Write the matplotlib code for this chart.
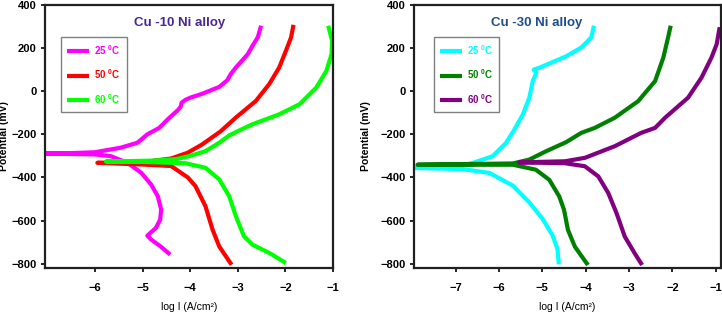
import numpy as np
import matplotlib
matplotlib.use("Agg")
import matplotlib.pyplot as plt

plt.rcParams['font.family'] = ['Liberation Sans', 'DejaVu Sans']
plt.rcParams['mathtext.fontset'] = 'custom'
plt.rcParams['mathtext.rm'] = 'Liberation Sans:bold'
plt.rcParams['mathtext.bf'] = 'Liberation Sans:bold'
plt.rcParams['mathtext.default'] = 'bf'

# ---- Cu -10 Ni alloy: log i (A/cm2) vs potential (mV), cathodic end -> Ecorr -> anodic end
cu10_25_logi = [-4.42, -4.61, -4.82, -4.9, -4.72, -4.63, -4.61, -4.68, -4.82, -5.03, -5.32, -5.67,
                -6.02, -6.6, -7.04, -6.5, -6.0, -5.46, -5.11, -4.9, -4.65, -4.47, -4.26, -4.2,
                -4.18, -4.1, -4.0, -3.75, -3.39, -3.22, -3.15, -3.04, -2.79, -2.69, -2.58, -2.51]
cu10_25_E = [-758, -722, -688, -670, -634, -595, -549, -487, -433, -378, -332, -301,
             -293, -291, -289, -287, -283, -262, -239, -200, -170, -130, -88, -72,
             -53, -40, -30, -12, 20, 51, 79, 110, 172, 211, 250, 304]

cu10_50_logi = [-3.13, -3.39, -3.53, -3.68, -3.89, -4.05, -4.4, -5.0, -5.95, -5.0, -4.4,
                -4.05, -3.75, -3.36, -3.04, -2.62, -2.34, -2.13, -1.99, -1.88, -1.83]
cu10_50_E = [-805, -720, -642, -533, -440, -400, -347, -340, -332, -329, -312,
             -285, -247, -186, -122, -45, 33, 110, 187, 250, 308]

cu10_60_logi = [-1.99, -2.34, -2.69, -2.87, -3.04, -3.18, -3.39, -3.68, -4.1, -5.0, -5.77,
                -4.8, -4.3, -4.0, -3.68, -3.39, -3.18, -2.95, -2.69, -2.13, -1.7, -1.35,
                -1.14, -1.03, -1.02, -1.1]
cu10_60_E = [-797, -750, -712, -673, -580, -487, -409, -355, -334, -328, -326,
             -322, -315, -300, -278, -239, -205, -180, -153, -107, -60, 17,
             94, 172, 234, 304]

# ---- Cu -30 Ni alloy
cu30_25_logi = [-4.62, -4.65, -4.76, -4.99, -5.3, -5.68, -6.22, -6.84, -7.95, -7.0, -6.61,
                -6.15, -5.84, -5.65, -5.45, -5.3, -5.22, -5.14, -5.2, -5.08, -4.8, -4.45,
                -4.1, -3.87, -3.81]
cu30_25_E = [-803, -733, -671, -593, -516, -438, -379, -361, -356, -350, -333,
             -302, -240, -180, -108, -30, 48, 85, 100, 108, 132, 162,
             203, 250, 304]

cu30_50_logi = [-3.95, -4.25, -4.41, -4.5, -4.61, -4.84, -5.15, -5.68, -7.88, -5.68, -5.3,
                -4.92, -4.45, -4.1, -3.79, -3.33, -2.79, -2.4, -2.21, -2.1, -2.04]
cu30_50_E = [-806, -721, -643, -550, -488, -411, -364, -341, -341, -335, -317,
             -279, -236, -193, -170, -123, -46, 47, 156, 250, 304]

cu30_60_logi = [-2.7, -2.87, -3.1, -3.29, -3.48, -3.71, -4.02, -4.48, -5.53, -4.48, -4.02,
                -3.33, -2.72, -2.4, -2.17, -1.64, -1.33, -1.1, -0.98, -0.91]
cu30_60_E = [-806, -752, -674, -565, -472, -395, -348, -334, -330, -325, -309,
             -255, -193, -170, -123, -30, 63, 156, 218, 297]

labels = ['25 $^{0}$C', '50 $^{0}$C', '60 $^{0}$C']
colors10 = ['#ff00ff', '#ff0000', '#00ff00']
colors30 = ['#00ffff', '#008000', '#800080']
titles = ['Cu -10 Ni alloy', 'Cu -30 Ni alloy']
title_colors = ['#4b2790', '#1f4e8c']

fig = plt.figure(figsize=(7.22, 3.17), dpi=100)
ax1 = fig.add_axes([45/722, 1-268/317, 288/722, 263/317])
ax2 = fig.add_axes([414/722, 1-268/317, 307/722, 263/317])

data = [
    (ax1, [(cu10_25_logi, cu10_25_E), (cu10_50_logi, cu10_50_E), (cu10_60_logi, cu10_60_E)],
     colors10, (-7.05, -1.0), [-6, -5, -4, -3, -2, -1]),
    (ax2, [(cu30_25_logi, cu30_25_E), (cu30_50_logi, cu30_50_E), (cu30_60_logi, cu30_60_E)],
     colors30, (-7.96, -0.88), [-7, -6, -5, -4, -3, -2, -1]),
]

for i, (ax, series, cols, xl, xt) in enumerate(data):
    for (x, y), c, lab in zip(series, cols, labels):
        ax.plot(x, y, color=c, lw=3.0, label=lab, solid_joinstyle='round',
                solid_capstyle='butt')
    ax.set_xlim(*xl)
    ax.set_ylim(-820, 400)
    ax.set_xticks(xt)
    ax.set_yticks(np.arange(-800, 401, 200))
    ax.tick_params(direction='out', length=3, width=1.2, labelsize=8, pad=3)
    ax.tick_params(axis='x', pad=8)
    for t in ax.get_xticklabels() + ax.get_yticklabels():
        t.set_fontweight('bold')
    for s in ax.spines.values():
        s.set_linewidth(1.6)
        s.set_color('#202020')
    ax.set_ylabel('Potential (mV)', fontsize=7.5, fontweight='bold')
    ax.set_xlabel('log I (A/cm²)', fontsize=7.5)
    ax.text(0.469 if i == 0 else 0.399, 0.933, titles[i], transform=ax.transAxes,
            ha='center', va='center', fontsize=9.5, fontweight='bold',
            color=title_colors[i])
    leg = ax.legend(loc='upper left', bbox_to_anchor=(0.056 if i == 0 else 0.065, 0.878),
                    fancybox=False, framealpha=1, edgecolor='#808080',
                    labelcolor='linecolor', prop={'weight': 'bold', 'size': 7},
                    handlelength=2.3, handletextpad=0.5, labelspacing=1.1,
                    borderpad=0.6, borderaxespad=0)
    leg.get_frame().set_linewidth(1.0)

ax1.yaxis.set_label_coords(-0.125, 0.5)
ax2.yaxis.set_label_coords(-0.14, 0.5)
ax1.xaxis.set_label_coords(0.5, -0.128)
ax2.xaxis.set_label_coords(0.5, -0.128)

fig.savefig('out.png', dpi=100)
